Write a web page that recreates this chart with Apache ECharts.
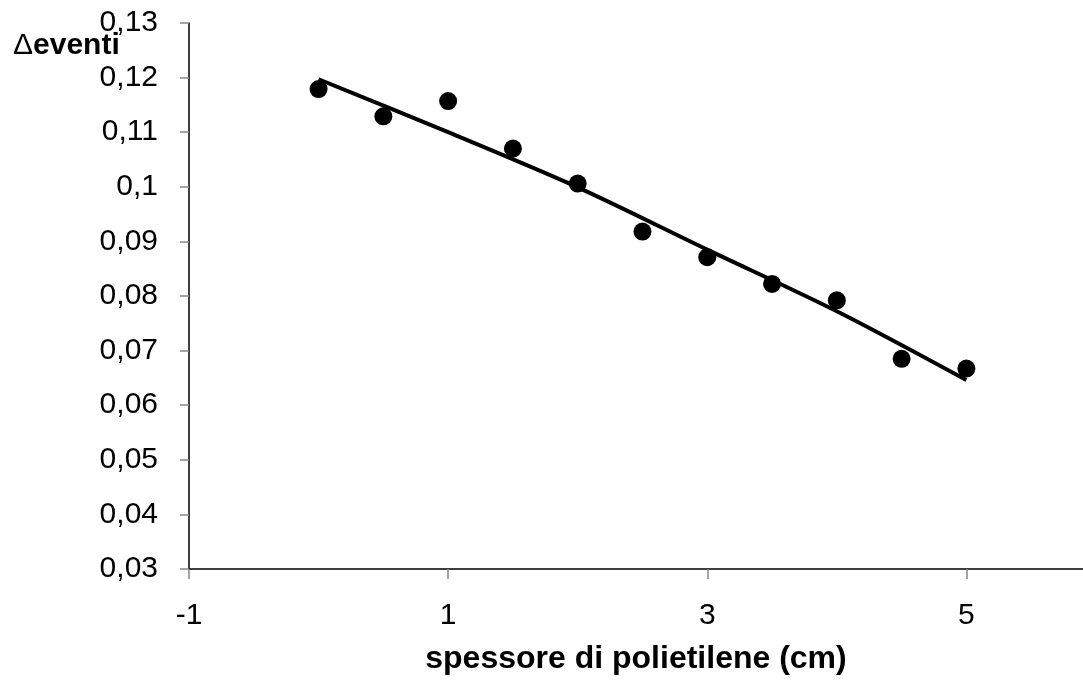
<!DOCTYPE html>
<html>
<head>
<meta charset="utf-8">
<script src="https://cdn.jsdelivr.net/npm/echarts@6/dist/echarts.min.js"></script>
<style>
  html, body { margin: 0; padding: 0; background: #fff; }
  #chart { width: 1083px; height: 680px; }
</style>
</head>
<body>
<div id="chart"></div>
<script>
// spessore (cm)
var spessore = [0, 0.5, 1, 1.5, 2, 2.5, 3, 3.5, 4, 4.5, 5];
// punti misurati
var deltaEventi = [0.1179, 0.1129, 0.1157, 0.1070, 0.1006, 0.0918, 0.0871, 0.0822, 0.0792, 0.0685, 0.0667];
// linea di tendenza
var trendX = [0, 1, 2, 3, 4, 5];
var trendY = [0.1197, 0.1100, 0.0999, 0.0885, 0.0772, 0.0646];

var chart = echarts.init(document.getElementById('chart'));

function pairs(xs, ys) {
  return xs.map(function (x, i) { return [x, ys[i]]; });
}

var font = '"Liberation Sans", Arial, sans-serif';

var option = {
  animation: false,
  backgroundColor: '#fff',
  title: {
    left: 8,
    top: 26,
    text: '{d|Δ}{e|eventi}',
    textStyle: {
      rich: {
        d: { fontFamily: font, fontSize: 30, fontWeight: 'normal', color: '#000' },
        e: { fontFamily: font, fontSize: 30, fontWeight: 'bold', color: '#000' }
      }
    }
  },
  grid: { left: 189, top: 23, right: 0, bottom: 110, containLabel: false },
  xAxis: {
    type: 'value',
    min: -1,
    max: 5.9,
    interval: 2,
    name: 'spessore di polietilene (cm)',
    nameLocation: 'middle',
    nameGap: 74,
    nameTextStyle: { fontFamily: font, fontSize: 32, fontWeight: 'bold', color: '#000' },
    axisLine: { onZero: false, lineStyle: { color: '#000', width: 1.5 } },
    axisTick: { show: true, inside: false, length: 10, lineStyle: { color: '#888', width: 1.5 } },
    axisLabel: { showMaxLabel: false, margin: 32, fontFamily: font, fontSize: 30, color: '#000' },
    splitLine: { show: false }
  },
  yAxis: {
    type: 'value',
    min: 0.03,
    max: 0.13,
    interval: 0.01,
    axisLine: { show: true, onZero: false, lineStyle: { color: '#000', width: 1.5 } },
    axisTick: { show: true, inside: false, length: 9, lineStyle: { color: '#888', width: 1.5 } },
    axisLabel: {
      margin: 31,
      fontFamily: font,
      fontSize: 30,
      color: '#000',
      formatter: function (v) { return String(+v.toFixed(2)).replace('.', ','); }
    },
    splitLine: { show: false }
  },
  series: [
    {
      type: 'line',
      data: pairs(trendX, trendY),
      smooth: 0.3,
      showSymbol: false,
      lineStyle: { color: '#000', width: 4 },
      z: 2
    },
    {
      type: 'scatter',
      data: pairs(spessore, deltaEventi),
      symbol: 'circle',
      symbolSize: 18,
      itemStyle: { color: '#000', opacity: 1 },
      z: 3
    }
  ]
};

chart.setOption(option);
window.onresize = chart.resize;
</script>
</body>
</html>
